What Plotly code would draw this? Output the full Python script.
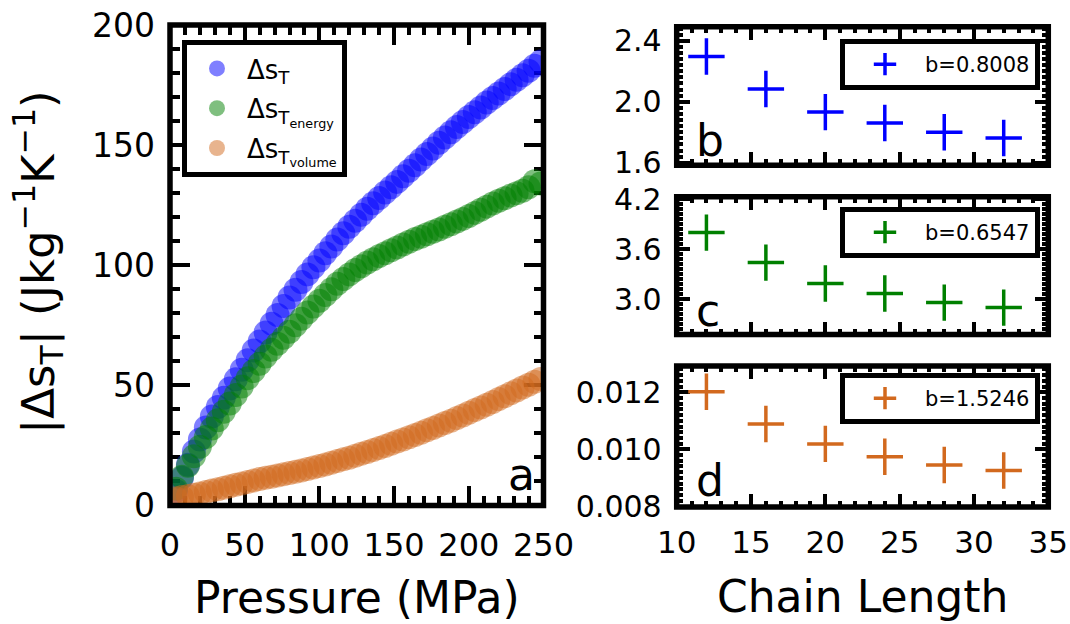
import plotly.graph_objects as go

# ---------------- data ----------------
pressure = [4, 8, 12, 16, 20, 24, 28, 32, 36, 40, 44, 48, 52, 56, 60, 64, 68, 72, 76, 80,
            84, 88, 92, 96, 100, 104, 108, 112, 116, 120, 124, 128, 132, 136, 140, 144, 148,
            152, 156, 160, 164, 168, 172, 176, 180, 184, 188, 192, 196, 200, 204, 208, 212,
            216, 220, 224, 228, 232, 236, 240, 244, 248]
ds_total = [6, 11.5, 17, 22.5, 27.5, 32.5, 37, 41, 44.8, 48.7, 52.5, 56.5, 60.5, 64.5, 68.3,
            72, 75.7, 79.3, 83, 86.6, 89.8, 93, 96.2, 99.2, 102, 105, 107.8, 110.7, 113.3,
            116, 118.5, 121, 123.5, 125.8, 128, 130.3, 132.5, 134.7, 137, 139.3, 141.6, 144,
            146.3, 148.6, 151, 153.2, 155.4, 157.5, 159.6, 161.7, 163.7, 165.7, 167.7, 169.6,
            171.5, 173.4, 175.3, 177.2, 179.1, 181, 183, 184.8]
ds_energy = [7, 12, 16.5, 20.5, 24.5, 28.5, 32, 35.5, 39, 42.5, 46, 49.5, 53, 56, 59, 62,
             64.8, 67.3, 69.8, 72.3, 75, 77.7, 80.3, 82.8, 85.2, 87.6, 90, 92.3, 94.3, 96.2,
             98, 99.6, 101.1, 102.5, 103.8, 105, 106.2, 107.4, 108.6, 109.8, 110.9, 111.9,
             112.9, 113.9, 114.9, 116, 117.1, 118.2, 119.3, 120.5, 121.8, 123.1, 124.4, 125.7,
             126.8, 127.9, 129, 130, 131, 132.5, 135, 134]
ds_volume = [3, 3.5, 4, 4.5, 5, 5.6, 6.2, 6.8, 7.4, 8, 8.6, 9.2, 9.8, 10.4, 11, 11.5, 12,
             12.5, 13, 13.5, 14, 14.6, 15.2, 15.8, 16.4, 17.1, 17.8, 18.5, 19.2, 19.9, 20.7,
             21.5, 22.3, 23.1, 23.9, 24.8, 25.7, 26.6, 27.5, 28.4, 29.3, 30.3, 31.3, 32.3, 33.3,
             34.3, 35.3, 36.4, 37.5, 38.6, 39.7, 40.8, 41.9, 43.1, 44.3, 45.5, 46.7, 47.9, 49.1,
             50.3, 51.5, 52.7]

chain_length = [12, 16, 20, 24, 28, 32]
fit_b = [2.297, 2.083, 1.932, 1.86, 1.80, 1.762]
fit_c = [3.80, 3.44, 3.19, 3.07, 2.96, 2.90]
fit_d = [0.01202, 0.01089, 0.01019, 0.00974, 0.00945, 0.00926]
b_labels = ["b=0.8008", "b=0.6547", "b=1.5246"]

names_left = ["Δs<sub>T</sub>", "Δs<sub>T<sub>energy</sub></sub>",
              "Δs<sub>T<sub>volume</sub></sub>"]

BLUE, GREEN, ORANGE = "#0000ff", "#008000", "#d2691e"
FONT = "DejaVu Sans"
W, H = 1070, 624


def px(xp):
    return xp / W


def py(yp):
    return 1 - yp / H


fig = go.Figure()

# ---------------- left panel ----------------
for i, (vals, col) in enumerate([(ds_total, BLUE), (ds_energy, GREEN), (ds_volume, ORANGE)]):
    fig.add_trace(go.Scatter(
        x=pressure, y=vals, mode="markers", name=names_left[i],
        legendgroup=f"g{i}",
        marker=dict(size=24, color=col, opacity=0.5, line=dict(width=0)),
        xaxis="x", yaxis="y", legend="legend"))

# ---------------- right panels ----------------
for k, (vals, col) in enumerate([(fit_b, BLUE), (fit_c, GREEN), (fit_d, ORANGE)]):
    fig.add_trace(go.Scatter(
        x=chain_length, y=vals, mode="markers", name=b_labels[k],
        marker=dict(symbol="cross-thin", size=26, color=col,
                    line=dict(width=3.5, color=col)),
        xaxis=f"x{k + 2}", yaxis=f"y{k + 2}", legend=f"legend{k + 2}"))


def axis_common(major_len, minor_len, minor_dtick, tick0, show_labels=True, fsize=30):
    return dict(
        ticks="inside", ticklen=major_len, tickwidth=4, tickcolor="black",
        mirror="allticks", showline=False, showgrid=False, zeroline=False,
        showticklabels=show_labels, layer="below traces", automargin=False,
        tickfont=dict(family=FONT, size=fsize, color="black"),
        minor=dict(ticks="inside", ticklen=minor_len, tickwidth=3.5, tickcolor="black",
                   dtick=minor_dtick, tick0=tick0, showgrid=False),
    )


left_x = [px(170), px(543.5)]
left_y = [py(505.5), py(25)]
right_x = [px(676.7), px(1048.3)]
dom_b = [py(165.3), py(26.7)]
dom_c = [py(334.5), py(196.7)]
dom_d = [py(507), py(366)]

fig.update_layout(
    xaxis=dict(domain=left_x, anchor="y", range=[0, 250],
               tickvals=[0, 50, 100, 150, 200, 250], ticklabelstandoff=17,
               **axis_common(20, 10, 10, 0, fsize=32)),
    yaxis=dict(domain=left_y, anchor="x", range=[0, 200],
               tickvals=[0, 50, 100, 150, 200], ticklabelstandoff=14,
               **axis_common(20, 10, 10, 0, fsize=33)),
    xaxis2=dict(domain=right_x, anchor="y2", range=[10, 35], tickvals=[10, 15, 20, 25, 30, 35],
                **axis_common(13, 6, 1, 10, show_labels=False)),
    yaxis2=dict(domain=dom_b, anchor="x2", range=[1.583, 2.492],
                tickvals=[1.6, 2.0, 2.4], ticktext=["1.6", "2.0", "2.4"], ticklabelstandoff=14,
                **axis_common(13, 6, 0.04, 1.6)),
    xaxis3=dict(domain=right_x, anchor="y3", range=[10, 35], tickvals=[10, 15, 20, 25, 30, 35],
                **axis_common(13, 6, 1, 10, show_labels=False)),
    yaxis3=dict(domain=dom_c, anchor="x3", range=[2.577, 4.231],
                tickvals=[3.0, 3.6, 4.2], ticktext=["3.0", "3.6", "4.2"], ticklabelstandoff=14,
                **axis_common(13, 6, 0.06, 3.0)),
    xaxis4=dict(domain=right_x, anchor="y4", range=[10, 35], tickvals=[10, 15, 20, 25, 30, 35],
                ticklabelstandoff=14, **axis_common(13, 6, 1, 10, fsize=31)),
    yaxis4=dict(domain=dom_d, anchor="x4", range=[0.00798, 0.01292],
                tickvals=[0.008, 0.010, 0.012], ticktext=["0.008", "0.010", "0.012"],
                ticklabelstandoff=14, **axis_common(13, 6, 0.0002, 0.008)),
)

legend_common = dict(bgcolor="white", bordercolor="black", borderwidth=5,
                     xanchor="right", yanchor="top",
                     font=dict(family=FONT, size=21, color="black"), itemwidth=70)
fig.update_layout(
    width=W, height=H, margin=dict(l=0, r=0, t=0, b=0, autoexpand=False),
    plot_bgcolor="white", paper_bgcolor="white",
    font=dict(family=FONT, color="black"),
    showlegend=True,
    legend=dict(x=px(182), y=py(40), xanchor="left", yanchor="top",
                bgcolor="white", bordercolor="black", borderwidth=5,
                font=dict(family=FONT, size=26, color="black"),
                itemwidth=50, tracegroupgap=3),
    legend2=dict(x=px(1040), y=py(39), **legend_common),
    legend3=dict(x=px(1040), y=py(207), **legend_common),
    legend4=dict(x=px(1040), y=py(373), **legend_common),
)

# frames
for xr, yr in [("x", "y"), ("x2", "y2"), ("x3", "y3"), ("x4", "y4")]:
    fig.add_shape(type="rect", xref=f"{xr} domain", yref=f"{yr} domain",
                  x0=0, x1=1, y0=0, y1=1, line=dict(color="black", width=5.5),
                  fillcolor="rgba(0,0,0,0)", layer="above")

# panel labels and axis titles
ann = [
    dict(text="a", x=px(506), y=py(474), xanchor="left", yanchor="middle", size=44),
    dict(text="b", x=px(694), y=py(140), xanchor="left", yanchor="middle", size=44),
    dict(text="c", x=px(694), y=py(310), xanchor="left", yanchor="middle", size=44),
    dict(text="d", x=px(694), y=py(480), xanchor="left", yanchor="middle", size=44),
    dict(text="Pressure (MPa)", x=px(357), y=py(597), xanchor="center", yanchor="middle", size=44),
    dict(text="Chain Length", x=px(862), y=py(596), xanchor="center", yanchor="middle", size=44),
]
for a in ann:
    fig.add_annotation(text=a["text"], x=a["x"], y=a["y"], xref="paper", yref="paper",
                       xanchor=a["xanchor"], yanchor=a["yanchor"], showarrow=False,
                       font=dict(family=FONT, size=a["size"], color="black"))
fig.add_annotation(text="|Δs<sub>T</sub>| (Jkg<sup>−1</sup>K<sup>−1</sup>)",
                   x=px(38), y=py(262), xref="paper", yref="paper", textangle=-90,
                   xanchor="center", yanchor="middle", showarrow=False,
                   font=dict(family=FONT, size=45, color="black"))

fig.write_html("out.html")
